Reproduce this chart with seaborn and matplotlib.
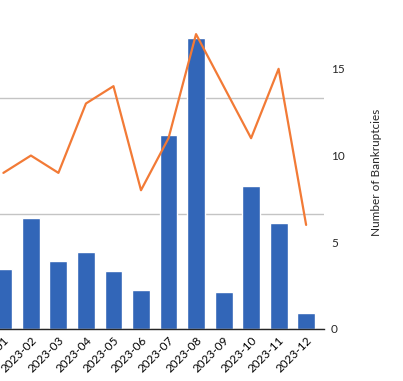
import matplotlib
matplotlib.use('Agg')
import matplotlib.pyplot as plt
import numpy as np
import pandas as pd
import seaborn as sns

months = ['2023-01', '2023-02', '2023-03', '2023-04', '2023-05', '2023-06',
          '2023-07', '2023-08', '2023-09', '2023-10', '2023-11', '2023-12']
# bar series on the (cropped) left axis
bar_values = [52, 96, 59, 67, 50, 34, 168, 252, 32, 124, 92, 14]
# bankruptcies on the right axis
bankruptcies = [9, 10, 9, 13, 14, 8, 11, 17, 14, 11, 15, 6]

bar_color = '#3266b8'
line_color = '#f27a36'

sns.set_style('white')
plt.rcParams['font.family'] = ['Lato', 'DejaVu Sans']

df = pd.DataFrame({'month': months, 'value': bar_values,
                   'pos': np.arange(len(months)), 'bankruptcies': bankruptcies})

fig = plt.figure(figsize=(4.03, 3.81), dpi=100)
# left part of the chart falls outside the picture, as in the reference
ax = fig.add_axes([-0.036, 0.1365, 0.840, 0.824])

sns.barplot(data=df, x='month', y='value', color=bar_color, width=0.65,
            saturation=1, ax=ax, zorder=2)
ax.set_xlim(-0.65, 11.65)
ax.set_ylim(0, 272)
ax.set_yticks([0, 100, 200])
ax.yaxis.grid(True, color='#c4c4c4', linewidth=1)
ax.set_axisbelow(True)
ax.set_xlabel('')
ax.set_ylabel('')
for s in ['top', 'right', 'left']:
    ax.spines[s].set_visible(False)
ax.spines['bottom'].set_color('#262626')
ax.spines['bottom'].set_linewidth(1)
ax.tick_params(axis='both', length=0, labelsize=8.5, colors='black')
ax.tick_params(axis='x', pad=4)
ax.tick_params(axis='y', labelleft=False)
plt.setp(ax.get_xticklabels(), rotation=45, ha='right', rotation_mode='anchor')

ax2 = ax.twinx()
sns.lineplot(data=df, x='pos', y='bankruptcies', color=line_color,
             linewidth=1.6, ax=ax2)
ax2.set_ylim(0, 18.1)
ax2.set_yticks([0, 5, 10, 15])
ax2.set_ylabel('Number of Bankruptcies', fontsize=8.5, labelpad=19)
ax2.set_xlabel('')
for s in ax2.spines.values():
    s.set_visible(False)
ax2.tick_params(axis='y', length=0, pad=5, labelsize=8.5)
ax2.set_xlim(-0.65, 11.65)

fig.savefig('out.png', dpi=100)
